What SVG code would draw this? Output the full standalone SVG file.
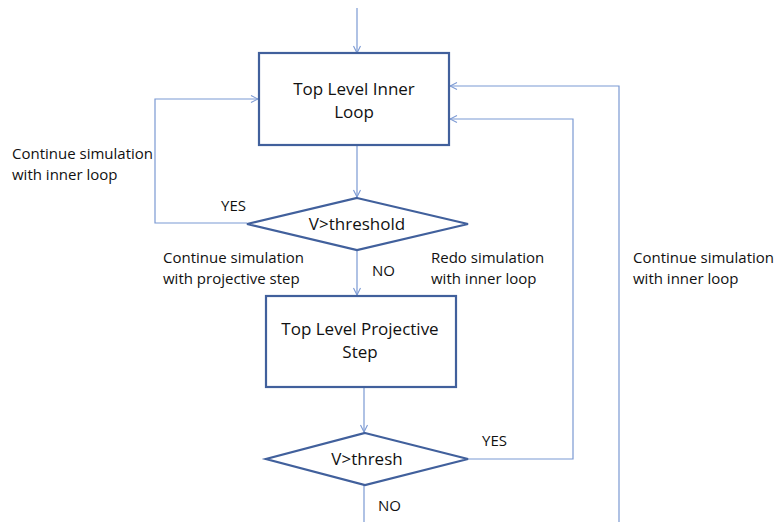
<svg xmlns="http://www.w3.org/2000/svg" width="779" height="522" viewBox="0 0 779 522">
  <style>
    .node { fill: #ffffff; stroke: #41609c; stroke-width: 2.2; }
    .conn { fill: none; stroke: #7b99d3; stroke-width: 1.2; }
    .ntxt { font-family: "Open Sans", "Noto Sans", sans-serif; font-size: 17px; fill: #111111; text-anchor: middle; }
    .ltxt { font-family: "Open Sans", "Noto Sans", sans-serif; font-size: 15px; fill: #111111; }
  </style>
  <defs>
    <marker id="arrow" viewBox="0 0 10 10" refX="9" refY="5" markerWidth="10" markerHeight="10" markerUnits="userSpaceOnUse" orient="auto">
      <path d="M2,1.5 L9,5 L2,8.5" fill="none" stroke="#7b99d3" stroke-width="1.1"/>
    </marker>
  </defs>
  <rect width="779" height="522" fill="#ffffff"/>

  <!-- connectors -->
  <g id="connectors">
    <path class="conn" d="M357,8 V53" marker-end="url(#arrow)"/>
    <path class="conn" d="M357,146 V197" marker-end="url(#arrow)"/>
    <path class="conn" d="M247,223 H155 V99 H258" marker-end="url(#arrow)"/>
    <path class="conn" d="M357,250 V295" marker-end="url(#arrow)"/>
    <path class="conn" d="M364,388 V432" marker-end="url(#arrow)"/>
    <path class="conn" d="M468,459 H573 V119 H450" marker-end="url(#arrow)"/>
    <path class="conn" d="M619,522 V86 H450" marker-end="url(#arrow)"/>
    <path class="conn" d="M364,485 V522"/>
  </g>

  <!-- nodes -->
  <g id="inner-loop">
    <rect class="node" x="259" y="53" width="190" height="92"/>
    <text class="ntxt" x="354" y="95">Top Level Inner</text>
    <text class="ntxt" x="354" y="118">Loop</text>
  </g>
  <g id="check-threshold">
    <polygon class="node" points="357,198 468,224 357,250 247,224"/>
    <text class="ntxt" x="357" y="230">V&gt;threshold</text>
  </g>
  <g id="projective-step">
    <rect class="node" x="266" y="296" width="190" height="91"/>
    <text class="ntxt" x="360" y="335">Top Level Projective</text>
    <text class="ntxt" x="360" y="358">Step</text>
  </g>
  <g id="check-thresh">
    <polygon class="node" points="365,433 468,459 365,485 266,459"/>
    <text class="ntxt" x="367" y="465">V&gt;thresh</text>
  </g>

  <!-- connector labels -->
  <g id="labels">
    <text class="ltxt" x="12" y="159">Continue simulation</text>
    <text class="ltxt" x="12" y="180">with inner loop</text>
    <text class="ltxt" x="221" y="211">YES</text>
    <text class="ltxt" x="163" y="263">Continue simulation</text>
    <text class="ltxt" x="163" y="284">with projective step</text>
    <text class="ltxt" x="372" y="276">NO</text>
    <text class="ltxt" x="431" y="263">Redo simulation</text>
    <text class="ltxt" x="431" y="284">with inner loop</text>
    <text class="ltxt" x="633" y="263">Continue simulation</text>
    <text class="ltxt" x="633" y="284">with inner loop</text>
    <text class="ltxt" x="482" y="446">YES</text>
    <text class="ltxt" x="378" y="511">NO</text>
  </g>
</svg>
